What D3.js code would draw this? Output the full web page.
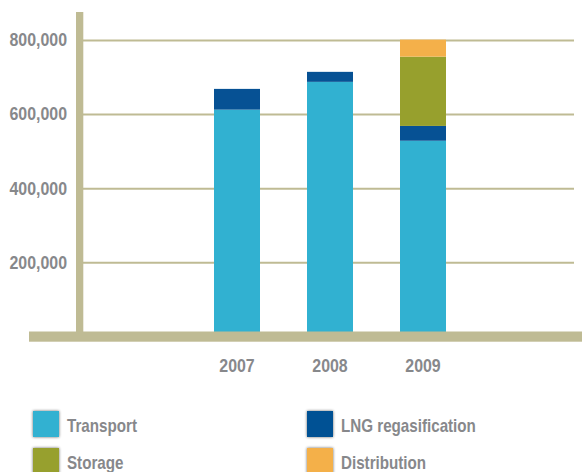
<!DOCTYPE html>
<html>
<head>
<meta charset="utf-8">
<script src="https://cdn.jsdelivr.net/npm/d3@7"></script>
<style>
  body { margin: 0; background: #fff; }
  svg text { font-family: "Liberation Sans", Arial, sans-serif; font-weight: bold; fill: #87888b; }
</style>
</head>
<body>
<div id="chart"></div>
<script>
var years = ['2007', '2008', '2009'];
var transport = [612000, 687000, 528000];
var lngRegas = [56000, 27000, 40000];
var storage = [0, 0, 187000];
var distribution = [0, 0, 46000];
var yTicks = [200000, 400000, 600000, 800000];

var seriesNames = ['Transport', 'LNG regasification', 'Storage', 'Distribution'];
var colors = ['#31b1d1', '#065194', '#97a02d', '#f4b04a'];
var axisColor = '#bfbb94';

// squeeze text horizontally, the original uses a condensed face
function condense(sel, factor) {
  sel.each(function() {
    var w = this.getComputedTextLength();
    d3.select(this)
      .attr('textLength', w * factor)
      .attr('lengthAdjust', 'spacingAndGlyphs');
  });
}

var svg = d3.select('#chart').append('svg')
  .attr('width', 582)
  .attr('height', 472);

var defs = svg.append('defs');
var shadow = defs.append('filter')
  .attr('id', 'glow')
  .attr('x', '-40%').attr('y', '-40%')
  .attr('width', '180%').attr('height', '180%');
shadow.append('feGaussianBlur')
  .attr('in', 'SourceAlpha')
  .attr('stdDeviation', 1.6)
  .attr('result', 'blur');
shadow.append('feComponentTransfer')
  .append('feFuncA').attr('type', 'linear').attr('slope', 0.6);
var merge = shadow.append('feMerge');
merge.append('feMergeNode');
merge.append('feMergeNode').attr('in', 'SourceGraphic');

var table = years.map(function(year, i) {
  return {
    year: year,
    'Transport': transport[i],
    'LNG regasification': lngRegas[i],
    'Storage': storage[i],
    'Distribution': distribution[i]
  };
});

var x = d3.scalePoint().domain(years).range([237, 423]);
var y = d3.scaleLinear().domain([0, 800000]).range([336.3, 40]);
var barWidth = 46;

// gridlines + tick labels
var yAxis = svg.append('g')
  .attr('transform', 'translate(83,0)')
  .call(d3.axisLeft(y)
    .tickValues(yTicks)
    .tickSize(-491)
    .tickPadding(16)
    .tickFormat(d3.format(',')));
yAxis.select('.domain').remove();
yAxis.selectAll('.tick line')
  .attr('stroke', axisColor)
  .attr('stroke-width', 2);
yAxis.selectAll('.tick text')
  .attr('font-size', 18.5)
  .attr('font-family', null)
  .attr('fill', '#87888b')
  .call(condense, 0.86);

// stacked bars
var stacked = d3.stack().keys(seriesNames)(table);

svg.selectAll('.series')
  .data(stacked)
  .enter().append('g')
    .attr('class', 'series')
    .attr('fill', function(d, i) { return colors[i]; })
  .selectAll('rect')
  .data(function(d) { return d; })
  .enter().append('rect')
    .attr('x', function(d) { return x(d.data.year) - barWidth / 2; })
    .attr('y', function(d) { return y(d[1]); })
    .attr('width', barWidth)
    .attr('height', function(d) { return y(d[0]) - y(d[1]); });

// axis bars
svg.append('rect')
  .attr('x', 76).attr('y', 12)
  .attr('width', 7.3).attr('height', 322)
  .attr('fill', axisColor);
svg.append('rect')
  .attr('x', 29).attr('y', 331.5)
  .attr('width', 553).attr('height', 10.2)
  .attr('fill', axisColor);

// year labels
svg.selectAll('.year')
  .data(years)
  .enter().append('text')
    .attr('class', 'year')
    .attr('x', function(d) { return x(d); })
    .attr('y', 371.5)
    .attr('text-anchor', 'middle')
    .attr('font-size', 18.5)
    .text(function(d) { return d; })
    .call(condense, 0.86);

// legend
var legend = svg.selectAll('.legend')
  .data(seriesNames)
  .enter().append('g')
    .attr('class', 'legend')
    .attr('transform', function(d, i) {
      var col = i % 2, row = Math.floor(i / 2);
      return 'translate(' + (col === 0 ? 33 : 307) + ',' + (411 + row * 37) + ')';
    });

legend.append('rect')
  .attr('width', 26)
  .attr('height', 26)
  .attr('fill', function(d, i) { return colors[i]; })
  .attr('filter', 'url(#glow)');

legend.append('text')
  .attr('x', 34)
  .attr('y', 21)
  .attr('font-size', 18.5)
  .text(function(d) { return d; })
  .call(condense, 0.82);
</script>
</body>
</html>
